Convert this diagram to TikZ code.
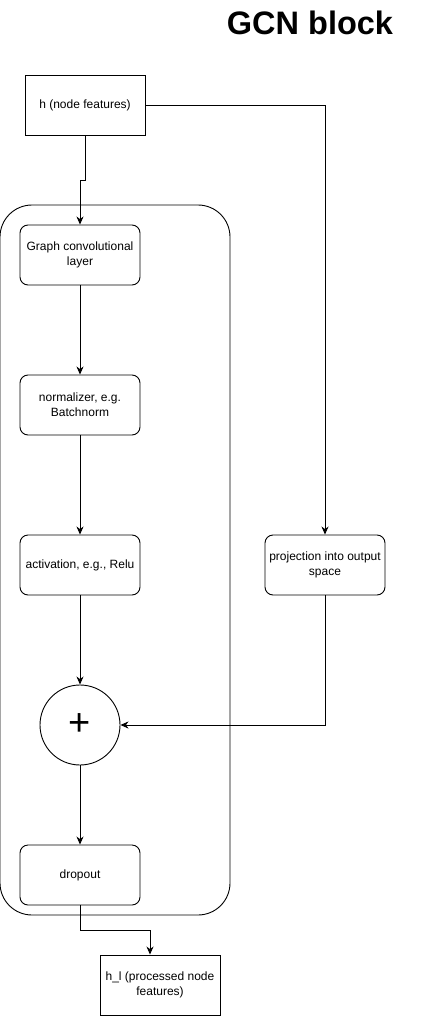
\documentclass[tikz,border=0pt]{standalone}
\usepackage{fontspec}
\setmainfont{Liberation Sans}
\usetikzlibrary{arrows.meta}
\begin{document}
\begin{tikzpicture}[x=1pt,y=-1pt,
  lbl/.style={font=\fontsize{12}{15}\selectfont,align=center},
  sqbox/.style={draw,line width=0.9pt,minimum width=120pt,minimum height=60pt,inner sep=2pt,lbl},
  rbox/.style={sqbox,rounded corners=8pt},
  conn/.style={line width=0.9pt,-{Stealth[length=8pt,width=7pt,inset=2.5pt]}},
  every node/.style={anchor=center}]
\useasboundingbox (0,0) rectangle (421,1016);
\node[font=\fontsize{32.5}{36}\bfseries\selectfont] (title) at (310,23) {GCN block};
\node[draw,line width=0.9pt,rounded corners=32pt,minimum width=230pt,minimum height=710pt] (cont) at (115,560) {};
\node[sqbox] (h) at (85,105) {h (node features)};
\node[rbox] (gcl) at (80,255) {Graph convolutional\\layer};
\node[rbox] (norm) at (80,405) {normalizer, e.g.\\Batchnorm};
\node[rbox] (act) at (80,565) {activation, e.g., Relu};
\node[draw,circle,line width=0.9pt,minimum size=80pt,inner sep=0pt,font=\fontsize{38}{40}\selectfont] (plus) at (80,725) {+};
\node[rbox] (drop) at (80,875) {dropout};
\node[rbox] (proj) at (325,565) {projection into output\\space};
\node[sqbox] (hl) at (160,985) {h\_l (processed node\\features)};
\coordinate (c1) at (85,180);
\coordinate (c2) at (80,180);
\coordinate (c3) at (80,930);
\coordinate (c4) at (150,930);
\draw[conn] (h.south) -- (c1) -- (c2) -- (gcl.north);
\draw[conn] (h.east) -| (proj.north);
\draw[conn] (gcl) -- (norm);
\draw[conn] (norm) -- (act);
\draw[conn] (act) -- (plus);
\draw[conn] (proj.south) |- (plus.east);
\draw[conn] (plus) -- (drop);
\draw[conn] (drop.south) -- (c3) -- (c4) -- (c4 |- hl.north);
\end{tikzpicture}
\end{document}
